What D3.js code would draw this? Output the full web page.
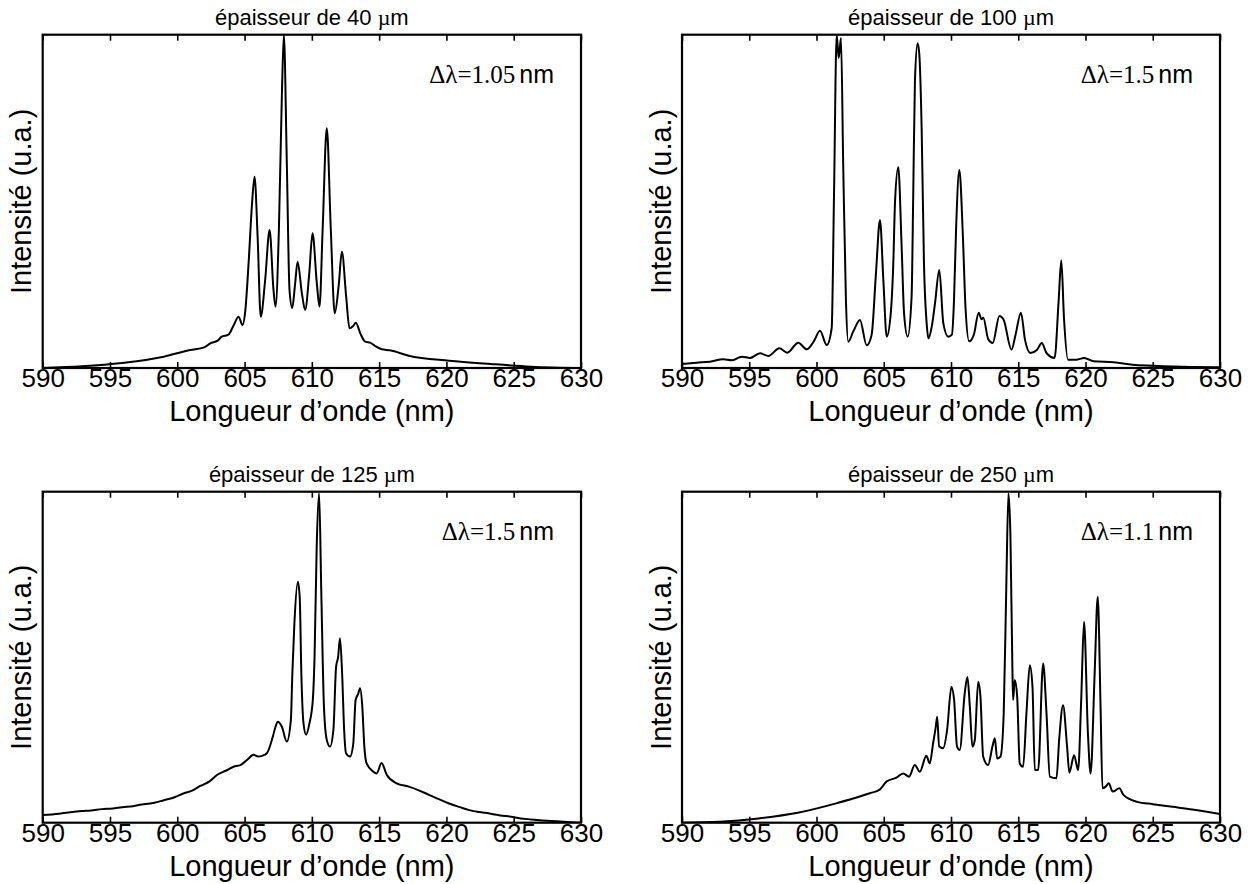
<!DOCTYPE html>
<html>
<head>
<meta charset="utf-8">
<script src="https://cdn.jsdelivr.net/npm/d3@7"></script>
<style>
  html, body { margin: 0; padding: 0; background: #fff; }
  svg { display: block; }
  .sans { font-family: "Liberation Sans", Arial, Helvetica, sans-serif; }
  .serif { font-family: "Liberation Serif", "Times New Roman", serif; }
</style>
</head>
<body>
<svg id="fig" width="1258" height="884"></svg>
<script>
// Axis ticks shared by all four spectra (nm)
const tickValues = [590, 595, 600, 605, 610, 615, 620, 625, 630];
const thicknesses = ["40", "100", "125", "250"];
const deltaLambda = ["1.05", "1.5", "1.5", "1.1"];

// Spectra: [wavelength (nm), normalised intensity]
const spectrum40 = [
  [590,0.0],[592.9,0.005],[595.9,0.015],[599.0,0.034],[600.97,0.054],[602.0,0.062],[602.45,0.074],
  [603.0,0.082],[603.3,0.094],[603.8,0.10],[604.2,0.129],[604.55,0.154],[604.85,0.129],[605.05,0.17],
  [605.3,0.315],[605.55,0.49],[605.74,0.574],[605.97,0.394],[606.2,0.154],[606.53,0.264],[606.86,0.414],
  [607.15,0.234],[607.3,0.184],[607.55,0.414],[607.77,0.814],[607.92,1.0],[608.14,0.615],[608.34,0.234],
  [608.54,0.18],[608.75,0.25],[608.94,0.319],[609.26,0.224],[609.5,0.174],[609.8,0.28],[610.05,0.404],
  [610.37,0.254],[610.57,0.184],[610.8,0.414],[611.11,0.719],[611.41,0.414],[611.7,0.164],[612.0,0.25],
  [612.23,0.349],[612.55,0.214],[612.8,0.119],[613.05,0.125],[613.27,0.136],[613.6,0.104],[613.96,0.079],
  [614.33,0.076],[614.7,0.066],[615.2,0.056],[615.8,0.053],[617.2,0.037],[620.2,0.022],[623.3,0.012],
  [626.3,0.004],[630,0.0]
];

const spectrum100 = [
  [590,0.012],[591.09,0.016],[592.08,0.019],[593.07,0.026],[593.69,0.023],[594.43,0.034],[595.06,0.03],
  [595.8,0.044],[596.42,0.036],[597.24,0.059],[597.83,0.046],[598.65,0.076],[599.27,0.056],[599.8,0.08],
  [600.26,0.112],[600.76,0.069],[601.13,0.12],[601.3,0.514],[601.5,1.0],[601.65,0.93],[601.82,0.99],
  [601.99,0.6],[602.19,0.2],[602.36,0.079],[602.74,0.11],[603.23,0.144],[603.73,0.068],[604.1,0.1],
  [604.42,0.284],[604.72,0.444],[604.97,0.264],[605.22,0.094],[605.52,0.164],[605.71,0.314],[605.84,0.5],
  [606.08,0.602],[606.33,0.364],[606.51,0.164],[606.78,0.094],[607.07,0.214],[607.19,0.514],[607.32,0.864],
  [607.52,0.974],[607.64,0.944],[607.82,0.714],[607.99,0.314],[608.19,0.134],[608.32,0.089],[608.55,0.12],
  [608.81,0.194],[609.13,0.294],[609.43,0.134],[609.8,0.094],[610.07,0.1],[610.22,0.2],[610.38,0.42],
  [610.62,0.594],[610.88,0.4],[611.08,0.18],[611.35,0.08],[611.7,0.1],[612.06,0.166],[612.27,0.146],
  [612.4,0.151],[612.77,0.086],[613.1,0.075],[613.6,0.156],[613.9,0.146],[614.5,0.055],[614.8,0.1],
  [615.2,0.166],[615.5,0.085],[615.9,0.045],[616.4,0.055],[616.75,0.075],[617.1,0.045],[617.7,0.03],
  [618.0,0.2],[618.2,0.323],[618.4,0.15],[618.7,0.025],[619.3,0.025],[619.9,0.03],[620.6,0.02],
  [622.1,0.017],[623.5,0.01],[625,0.007],[627.9,0.003],[630,0.002]
];

const spectrum125 = [
  [590,0.023],[591.2,0.027],[591.9,0.031],[592.9,0.035],[593.6,0.037],[594.4,0.041],[595.2,0.043],
  [595.9,0.047],[596.7,0.05],[597.5,0.056],[598.3,0.06],[599.0,0.068],[599.8,0.077],[600.5,0.089],
  [601.1,0.097],[601.71,0.111],[602.4,0.125],[602.95,0.144],[603.6,0.157],[604.18,0.169],[604.68,0.174],
  [605.2,0.19],[605.67,0.205],[606.0,0.2],[606.29,0.202],[606.66,0.21],[607.1,0.26],[607.3,0.29],
  [607.47,0.305],[607.77,0.29],[608.14,0.245],[608.44,0.31],[608.55,0.45],[608.7,0.6],[608.96,0.728],
  [609.1,0.68],[609.22,0.45],[609.38,0.3],[609.57,0.266],[609.82,0.3],[610.07,0.37],[610.2,0.5],
  [610.36,0.834],[610.54,0.995],[610.7,0.7],[610.9,0.35],[611.11,0.25],[611.35,0.23],[611.6,0.28],
  [611.8,0.47],[611.95,0.5],[612.09,0.557],[612.25,0.45],[612.4,0.28],[612.54,0.21],[612.84,0.2],
  [613.08,0.24],[613.25,0.37],[613.45,0.39],[613.58,0.406],[613.75,0.35],[613.9,0.23],[614.07,0.179],
  [614.57,0.154],[614.81,0.149],[615.18,0.18],[615.56,0.145],[616.3,0.119],[617.2,0.109],[618.0,0.097],
  [618.7,0.084],[619.4,0.072],[620.2,0.058],[621.0,0.047],[621.7,0.038],[622.4,0.032],[623.2,0.028],
  [624.0,0.022],[624.8,0.018],[625.5,0.013],[626.3,0.01],[627.8,0.005],[630,0.0]
];

const spectrum250 = [
  [590,0.0],[592.8,0.003],[595.7,0.013],[598.6,0.03],[601.6,0.06],[603.22,0.079],[603.96,0.089],
  [604.7,0.1],[605.2,0.124],[605.94,0.136],[606.44,0.149],[606.88,0.139],[607.31,0.174],[607.68,0.154],
  [608.17,0.202],[608.42,0.179],[608.67,0.24],[608.87,0.29],[608.97,0.32],[609.12,0.23],[609.41,0.225],
  [609.71,0.28],[610.03,0.41],[610.23,0.371],[610.45,0.23],[610.65,0.22],[611.02,0.391],[611.22,0.44],
  [611.4,0.351],[611.59,0.23],[611.77,0.25],[612.02,0.426],[612.19,0.381],[612.39,0.2],[612.76,0.174],
  [613.08,0.23],[613.26,0.255],[613.43,0.194],[613.68,0.2],[613.92,0.331],[614.12,0.733],[614.27,0.995],
  [614.42,0.864],[614.57,0.451],[614.62,0.371],[614.74,0.431],[614.92,0.381],[615.11,0.179],[615.36,0.169],
  [615.61,0.331],[615.86,0.476],[616.06,0.41],[616.23,0.159],[616.48,0.159],[616.85,0.481],[617.1,0.331],
  [617.35,0.139],[617.84,0.134],[618.04,0.25],[618.33,0.355],[618.63,0.23],[618.8,0.151],[619.15,0.204],
  [619.45,0.159],[619.68,0.371],[619.89,0.607],[620.18,0.27],[620.38,0.149],[620.68,0.451],[620.91,0.683],
  [621.12,0.35],[621.26,0.104],[621.5,0.109],[621.73,0.119],[622.02,0.094],[622.52,0.104],[622.82,0.084],
  [623.84,0.063],[625.01,0.056],[626.48,0.048],[627.94,0.04],[630,0.026]
];

const spectra = [spectrum40, spectrum100, spectrum125, spectrum250];

// Panel frames in the 2 x 2 grid
const colX = [[42.7, 581], [682, 1220]];
const rowY = [[34.7, 368], [491.7, 822.7]];

const svg = d3.select("#fig");
svg.append("rect").attr("width", 1258).attr("height", 884).attr("fill", "#fff");

spectra.forEach((data, i) => {
  const [x0, x1] = colX[i % 2];
  const [y0, y1] = rowY[Math.floor(i / 2)];

  const x = d3.scaleLinear().domain([590, 630]).range([x0, x1]);
  const y = d3.scaleLinear().domain([0, 1]).range([y1, y0]);

  const g = svg.append("g");

  const clipId = "clip" + i;
  svg.append("clipPath").attr("id", clipId)
    .append("rect").attr("x", x0).attr("y", y0).attr("width", x1 - x0).attr("height", y1 - y0);

  // spectrum
  const line = d3.line().x(d => x(d[0])).y(d => y(d[1])).curve(d3.curveMonotoneX);
  g.append("path").datum(data)
    .attr("clip-path", `url(#${clipId})`)
    .attr("d", line)
    .attr("fill", "none")
    .attr("stroke", "#000")
    .attr("stroke-width", 2)
    .attr("stroke-linejoin", "round");

  // bottom axis with inward ticks
  const bottom = g.append("g").attr("transform", `translate(0,${y1})`)
    .call(d3.axisBottom(x).tickValues(tickValues).tickSize(-6).tickPadding(1).tickFormat(d3.format("d")));
  bottom.select(".domain").remove();
  bottom.selectAll(".tick line").attr("stroke", "#000").attr("stroke-width", 1.6);
  bottom.selectAll(".tick text")
    .attr("font-size", 26).attr("fill", "#000")
    .attr("font-family", "Liberation Sans, Arial, sans-serif");

  // top axis, ticks only
  const top = g.append("g").attr("transform", `translate(0,${y0})`)
    .call(d3.axisTop(x).tickValues(tickValues).tickSize(-6).tickFormat(""));
  top.select(".domain").remove();
  top.selectAll(".tick line").attr("stroke", "#000").attr("stroke-width", 1.6);

  // frame
  g.append("rect").attr("x", x0).attr("y", y0).attr("width", x1 - x0).attr("height", y1 - y0)
    .attr("fill", "none").attr("stroke", "#000").attr("stroke-width", 2.2);

  // title
  const title = g.append("text").attr("class", "sans")
    .attr("x", (x0 + x1) / 2).attr("y", y0 - 10)
    .attr("text-anchor", "middle").attr("font-size", 22);
  title.append("tspan").text(`épaisseur de ${thicknesses[i]} `);
  title.append("tspan").attr("class", "serif").text("µ");
  title.append("tspan").text("m");

  // resolution annotation
  const ann = g.append("text")
    .attr("x", x1 - 27).attr("y", y0 + 48)
    .attr("text-anchor", "end").attr("font-size", 25);
  ann.append("tspan").attr("class", "serif").text(`Δλ=${deltaLambda[i]}`);
  ann.append("tspan").attr("class", "sans").attr("dx", 4).text("nm");

  // axis labels
  g.append("text").attr("class", "sans")
    .attr("x", (x0 + x1) / 2).attr("y", y1 + 53)
    .attr("text-anchor", "middle").attr("font-size", 29)
    .text("Longueur d’onde (nm)");

  g.append("text").attr("class", "sans")
    .attr("transform", `translate(${x0 - 11.5},${(y0 + y1) / 2}) rotate(-90)`)
    .attr("text-anchor", "middle").attr("font-size", 29)
    .text("Intensité (u.a.)");
});
</script>
</body>
</html>
